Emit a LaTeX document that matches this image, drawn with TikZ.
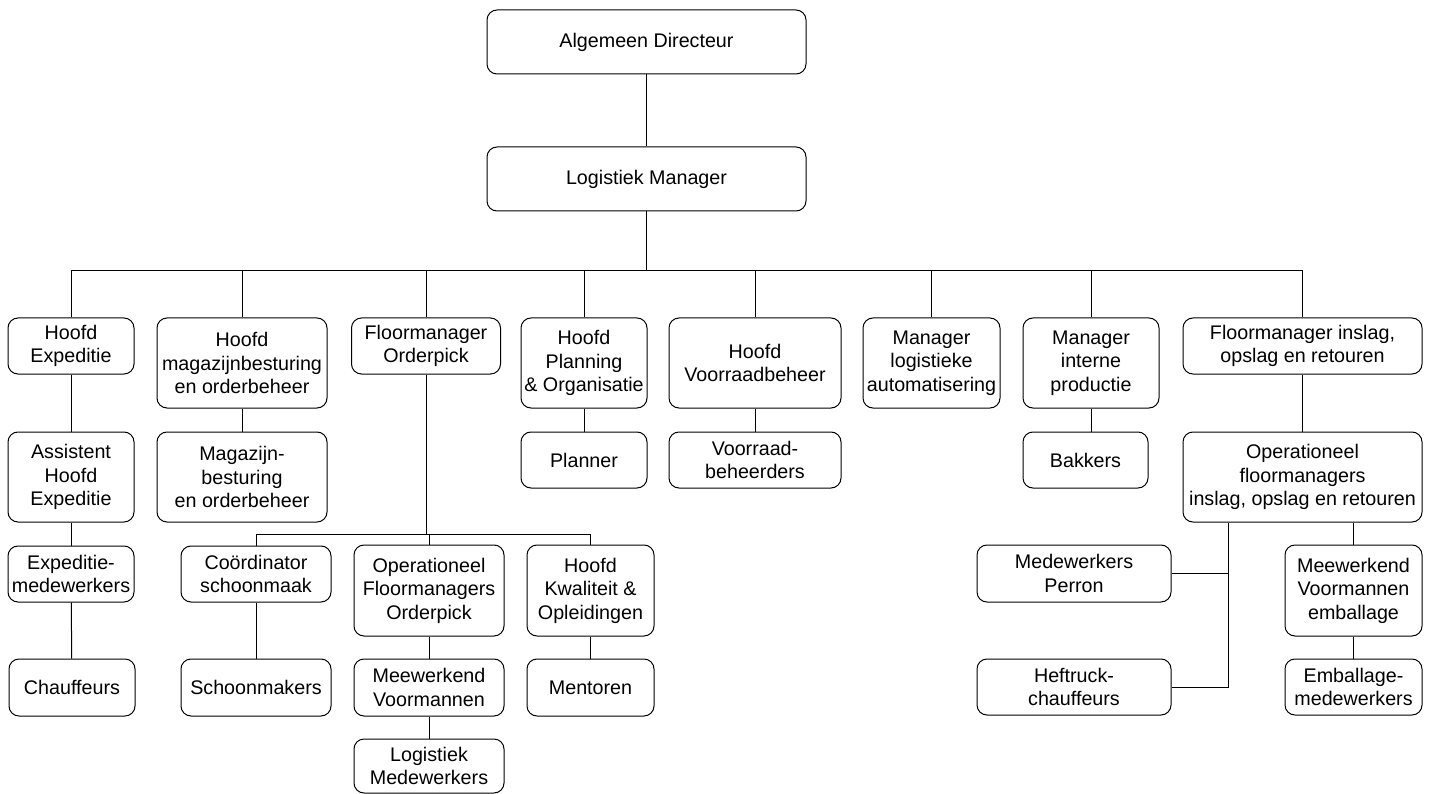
\documentclass[tikz,border=0pt]{standalone}
\usepackage{fontspec}
\setmainfont{Liberation Sans}
\begin{document}
\begin{tikzpicture}[x=1pt,y=-1pt,
  box/.style={draw, rounded corners=10pt, line width=1pt, align=center,
    inner sep=0pt, font=\fontsize{19.7}{23.5}\selectfont},
  sz/.style 2 args={minimum width=#1, minimum height=#2},
  link/.style={line width=1pt}]
\useasboundingbox (0,0) rectangle (1435,794);

% top of the chart
\node[box, sz={319pt}{64pt}] (dir) at (646.5,42) {Algemeen Directeur};
\node[box, sz={319pt}{64pt}] (lm) at (646.5,179) {Logistiek Manager};

% first row of departments
\node[box, sz={126pt}{56pt}] (hexp) at (71,346) {Hoofd\\Expeditie};
\node[box, sz={170pt}{90pt}] (hmag) at (242,363) {Hoofd\\magazijnbesturing\\en orderbeheer};
\node[box, sz={149pt}{56pt}] (fmop) at (426,346) {Floormanager\\Orderpick};
\node[box, sz={126pt}{90pt}] (hplan) at (584,363) {Hoofd\\Planning\\\&~Organisatie};
\node[box, sz={172pt}{90pt}] (hvoor) at (755,363) {Hoofd\\Voorraadbeheer};
\node[box, sz={137pt}{90pt}] (mla) at (931.5,363) {Manager\\logistieke\\automatisering};
\node[box, sz={136pt}{90pt}] (mip) at (1091,363) {Manager\\interne\\productie};
\node[box, sz={239pt}{56pt}] (fmin) at (1302.5,346) {Floormanager inslag,\\opslag en retouren};

% second row
\node[box, sz={126pt}{90pt}] (ahexp) at (71,477) {Assistent\\Hoofd\\Expeditie};
\node[box, sz={170pt}{90pt}] (mag) at (242,477) {Magazijn-\\besturing\\en orderbeheer};
\node[box, sz={126pt}{56pt}] (plan) at (584,460) {Planner};
\node[box, sz={172pt}{56pt}] (vbh) at (755,460) {Voorraad-\\beheerders};
\node[box, sz={125pt}{56pt}] (bak) at (1085.5,460) {Bakkers};
\node[box, sz={239pt}{90pt}] (opfl) at (1302.5,477) {Operationeel\\floormanagers\\inslag, opslag en retouren};

% third row
\node[box, sz={126pt}{56pt}] (expm) at (71,574) {Expeditie-\\medewerkers};
\node[box, sz={150pt}{56pt}] (coord) at (256,574) {Coördinator\\schoonmaak};
\node[box, sz={150pt}{91pt}] (opfo) at (429,590.5) {Operationeel\\Floormanagers\\Orderpick};
\node[box, sz={127pt}{91pt}] (hkw) at (590.5,590.5) {Hoofd\\Kwaliteit \&\\Opleidingen};
\node[box, sz={194pt}{57pt}] (perron) at (1074,573.5) {Medewerkers\\Perron};
\node[box, sz={137pt}{91pt}] (mve) at (1353.5,590.5) {Meewerkend\\Voormannen\\emballage};

% fourth row
\node[box, sz={126pt}{57pt}] (chauf) at (72,687.5) {Chauffeurs};
\node[box, sz={150pt}{57pt}] (schoon) at (256,687.5) {Schoonmakers};
\node[box, sz={150pt}{57pt}] (meew) at (429,687.5) {Meewerkend\\Voormannen};
\node[box, sz={127pt}{57pt}] (ment) at (590.5,687.5) {Mentoren};
\node[box, sz={194pt}{56pt}] (heft) at (1074,687) {Heftruck-\\chauffeurs};
\node[box, sz={137pt}{56pt}] (emb) at (1353.5,687) {Emballage-\\medewerkers};

% fifth row
\node[box, sz={150pt}{54pt}] (logm) at (429,766) {Logistiek\\Medewerkers};

% connectors
\coordinate (bus) at (0,271);
\coordinate (obus) at (0,534);
\coordinate (rj) at (1228,0);

\draw[link] (dir) -- (lm);
\draw[link] (lm.south) -- (lm.south |- bus);
\draw[link] (hexp.north |- bus) -- (fmin.north |- bus);
\foreach \n in {hexp,hmag,fmop,hplan,hvoor,mla,mip,fmin}
  \draw[link] (\n.north) -- (\n.north |- bus);

\draw[link] (hexp) -- (ahexp);
\draw[link] (ahexp) -- (expm);
\draw[link] (expm) -- (chauf);
\draw[link] (hmag) -- (mag);
\draw[link] (hplan) -- (plan);
\draw[link] (hvoor) -- (vbh);
\draw[link] (mip.south) -- (mip.south |- bak.north);
\draw[link] (fmin) -- (opfl);

\draw[link] (fmop.south) -- (fmop.south |- obus);
\draw[link] (coord.north) -- (coord.north |- obus) -- (hkw.north |- obus) -- (hkw.north);
\draw[link] (opfo.north) -- (opfo.north |- obus);
\draw[link] (coord) -- (schoon);
\draw[link] (opfo) -- (meew);
\draw[link] (meew) -- (logm);
\draw[link] (hkw) -- (ment);

\draw[link] (opfl.south -| rj) -- (rj |- heft.east) -- (heft.east);
\draw[link] (perron.east) -- (perron.east -| rj);
\draw[link] (opfl.south -| mve.north) -- (mve.north);
\draw[link] (mve) -- (emb);
\end{tikzpicture}
\end{document}
